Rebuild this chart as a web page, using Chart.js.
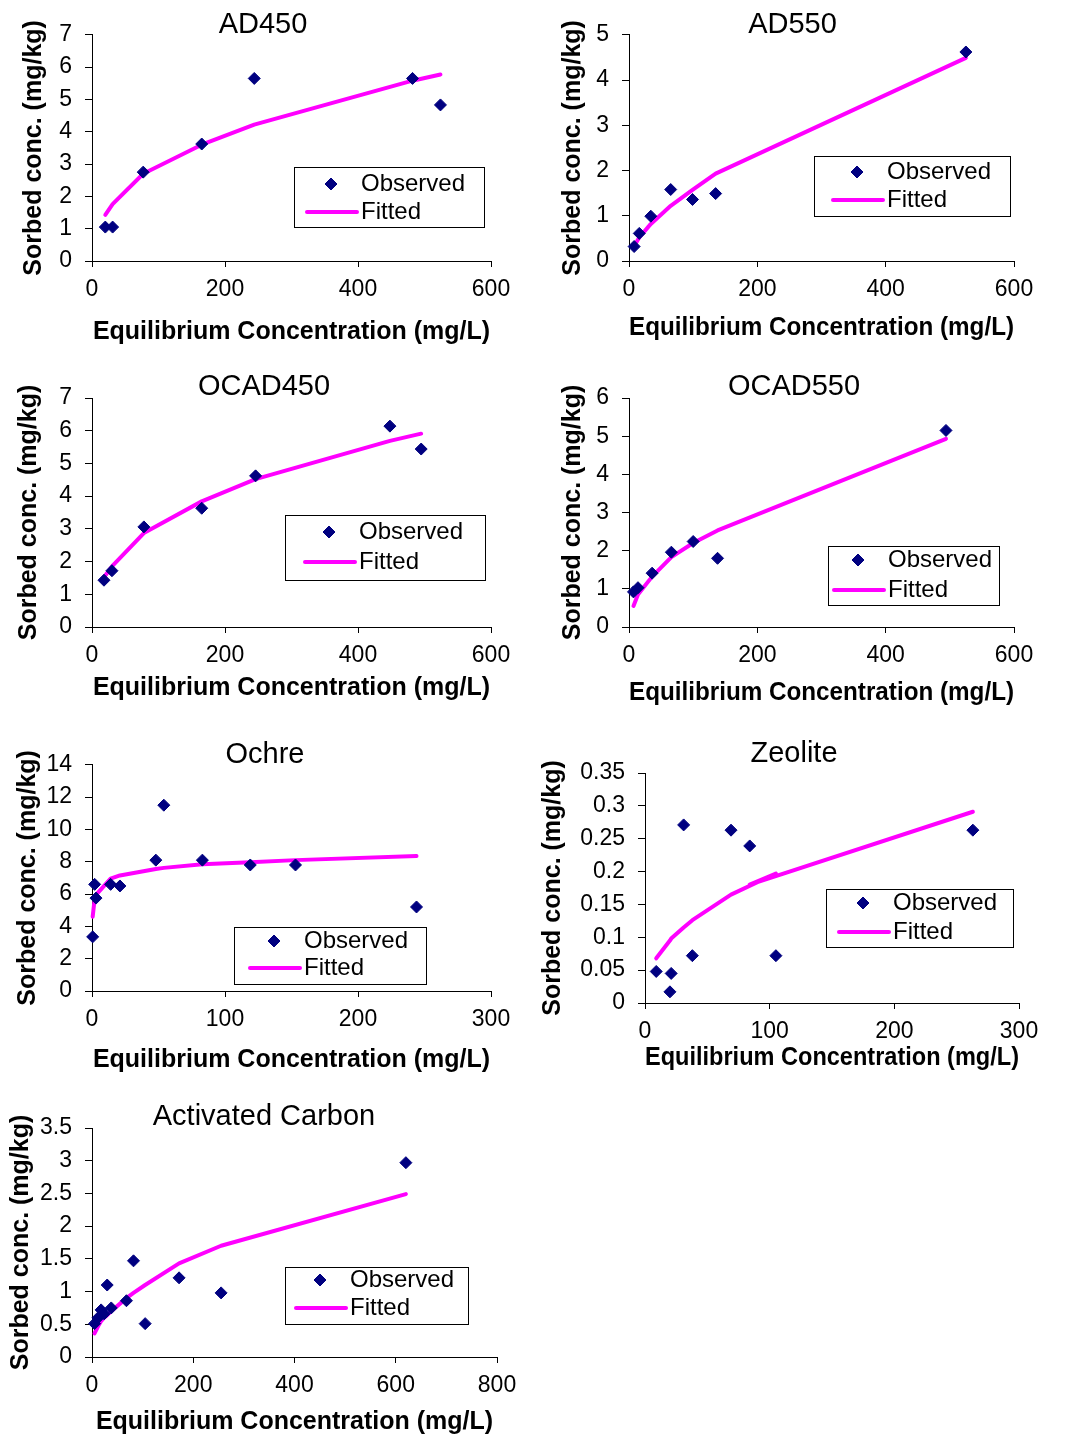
<!DOCTYPE html>
<html>
<head>
<meta charset="utf-8">
<title>Sorption isotherms</title>
<script src="https://cdn.jsdelivr.net/npm/chart.js@4.4.1/dist/chart.umd.min.js"></script>
<style>
  html, body { margin: 0; padding: 0; background: #ffffff; }
  #page { position: relative; width: 1067px; height: 1441px; overflow: hidden; background: #ffffff; }
  #page canvas { position: absolute; }
</style>
</head>
<body>
<div id="page"></div>
<script>
// ---------------- DATA ----------------
const seriesNames = ["Observed", "Fitted"];
const xAxisTitle = "Equilibrium Concentration (mg/L)";
const yAxisTitle = "Sorbed conc. (mg/kg)";

// AD450
const ad450X    = [20, 31, 77, 165, 244, 482, 524];
const ad450Obs  = [1.05, 1.05, 2.75, 3.62, 5.65, 5.65, 4.83];
const ad450Fit  = [1.43, 1.76, 2.70, 3.60, 4.22, 5.58, 5.77];
const ad450XTicks = [0, 200, 400, 600];
const ad450XTickLabels = ["0", "200", "400", "600"];
const ad450YTicks = [0, 1, 2, 3, 4, 5, 6, 7];
const ad450YTickLabels = ["0", "1", "2", "3", "4", "5", "6", "7"];

// AD550
const ad550X    = [8, 16, 34, 65, 99, 135, 525];
const ad550Obs  = [0.32, 0.61, 0.99, 1.58, 1.36, 1.49, 4.62];
const ad550Fit  = [0.33, 0.52, 0.82, 1.22, 1.57, 1.93, 4.49];
const ad550XTicks = [0, 200, 400, 600];
const ad550XTickLabels = ["0", "200", "400", "600"];
const ad550YTicks = [0, 1, 2, 3, 4, 5];
const ad550YTickLabels = ["0", "1", "2", "3", "4", "5"];

// OCAD450
const ocad450X   = [18, 30, 78, 165, 246, 448, 495];
const ocad450Obs = [1.43, 1.72, 3.06, 3.63, 4.62, 6.14, 5.44];
const ocad450Fit = [1.52, 1.85, 2.87, 3.84, 4.52, 5.69, 5.91];
const ocad450XTicks = [0, 200, 400, 600];
const ocad450XTickLabels = ["0", "200", "400", "600"];
const ocad450YTicks = [0, 1, 2, 3, 4, 5, 6, 7];
const ocad450YTickLabels = ["0", "1", "2", "3", "4", "5", "6", "7"];

// OCAD550
const ocad550X   = [7, 14, 36, 66, 100, 138, 494];
const ocad550Obs = [0.92, 1.03, 1.41, 1.96, 2.24, 1.80, 5.15];
const ocad550Fit = [0.55, 0.85, 1.32, 1.83, 2.20, 2.53, 4.93];
const ocad550XTicks = [0, 200, 400, 600];
const ocad550XTickLabels = ["0", "200", "400", "600"];
const ocad550YTicks = [0, 1, 2, 3, 4, 5, 6];
const ocad550YTickLabels = ["0", "1", "2", "3", "4", "5", "6"];

// Ochre
const ochreX   = [0.5, 2, 3, 14, 21, 48, 54, 83, 119, 153, 244];
const ochreObs = [3.35, 6.6, 5.75, 6.6, 6.5, 8.1, 11.5, 8.1, 7.8, 7.8, 5.2];
const ochreFit = [4.6, 5.7, 5.95, 6.95, 7.15, 7.55, 7.62, 7.85, 7.97, 8.1, 8.35];
const ochreXTicks = [0, 100, 200, 300];
const ochreXTickLabels = ["0", "100", "200", "300"];
const ochreYTicks = [0, 2, 4, 6, 8, 10, 12, 14];
const ochreYTickLabels = ["0", "2", "4", "6", "8", "10", "12", "14"];

// Zeolite (sheet order: 105 comes before 84, which gives the small hook in the fitted line)
const zeoliteX   = [9, 20, 21, 31, 38, 69, 105, 84, 263];
const zeoliteObs = [0.048, 0.017, 0.045, 0.271, 0.072, 0.263, 0.072, 0.239, 0.263];
const zeoliteFit = [0.068, 0.095, 0.098, 0.115, 0.126, 0.165, 0.197, 0.180, 0.291];
const zeoliteXTicks = [0, 100, 200, 300];
const zeoliteXTickLabels = ["0", "100", "200", "300"];
const zeoliteYTicks = [0, 0.05, 0.1, 0.15, 0.2, 0.25, 0.3, 0.35];
const zeoliteYTickLabels = ["0", "0.05", "0.1", "0.15", "0.2", "0.25", "0.3", "0.35"];

// Activated Carbon
const carbonX   = [5, 12, 18, 24, 30, 38, 68, 82, 105, 172, 255, 620];
const carbonObs = [0.51, 0.60, 0.72, 0.66, 1.10, 0.75, 0.86, 1.47, 0.51, 1.21, 0.98, 2.97];
const carbonFit = [0.36, 0.47, 0.55, 0.60, 0.64, 0.70, 0.90, 0.98, 1.10, 1.43, 1.70, 2.49];
const carbonXTicks = [0, 200, 400, 600, 800];
const carbonXTickLabels = ["0", "200", "400", "600", "800"];
const carbonYTicks = [0, 0.5, 1, 1.5, 2, 2.5, 3, 3.5];
const carbonYTickLabels = ["0", "0.5", "1", "1.5", "2", "2.5", "3", "3.5"];

// ---------------- PANELS (data references + page layout) ----------------
const panels = [
  { title: "AD450", x: ad450X, obs: ad450Obs, fit: ad450Fit,
    xTicks: ad450XTicks, xLabels: ad450XTickLabels, yTicks: ad450YTicks, yLabels: ad450YTickLabels,
    frame: { plot: [92, 33, 491, 261], titleX: 263, titleY: 23.3, yTitleX: 34, xTitleY: 332,
             legend: { box: [294, 167, 190, 60], textX: 361, rows: [184, 212] } } },
  { title: "AD550", x: ad550X, obs: ad550Obs, fit: ad550Fit,
    xTicks: ad550XTicks, xLabels: ad550XTickLabels, yTicks: ad550YTicks, yLabels: ad550YTickLabels,
    frame: { plot: [629, 33, 1014, 261], titleX: 792.5, titleY: 23.3, yTitleX: 573, xTitleY: 328,
             legend: { box: [814, 156, 196, 60], textX: 887, rows: [172, 200] } } },
  { title: "OCAD450", x: ocad450X, obs: ocad450Obs, fit: ocad450Fit,
    xTicks: ocad450XTicks, xLabels: ocad450XTickLabels, yTicks: ocad450YTicks, yLabels: ocad450YTickLabels,
    frame: { plot: [92, 398, 491, 627], titleX: 264, titleY: 386.7, yTitleX: 29, xTitleY: 688,
             legend: { box: [285, 515, 200, 65], textX: 359, rows: [532, 562] } } },
  { title: "OCAD550", x: ocad550X, obs: ocad550Obs, fit: ocad550Fit,
    xTicks: ocad550XTicks, xLabels: ocad550XTickLabels, yTicks: ocad550YTicks, yLabels: ocad550YTickLabels,
    frame: { plot: [629, 398, 1014, 627], titleX: 794, titleY: 386.7, yTitleX: 573, xTitleY: 693,
             legend: { box: [828, 546, 171, 59], textX: 888, rows: [560, 590] } } },
  { title: "Ochre", x: ochreX, obs: ochreObs, fit: ochreFit,
    xTicks: ochreXTicks, xLabels: ochreXTickLabels, yTicks: ochreYTicks, yLabels: ochreYTickLabels,
    frame: { plot: [92, 763, 491, 991], titleX: 265, titleY: 753.3, yTitleX: 28, xTitleY: 1060,
             legend: { box: [234, 927, 192, 57], textX: 304, rows: [941, 968] } } },
  { title: "Zeolite", x: zeoliteX, obs: zeoliteObs, fit: zeoliteFit,
    xTicks: zeoliteXTicks, xLabels: zeoliteXTickLabels, yTicks: zeoliteYTicks, yLabels: zeoliteYTickLabels,
    frame: { plot: [645, 773, 1019, 1003], titleX: 794, titleY: 753.3, yTitleX: 553, xTitleY: 1058,
             legend: { box: [826, 889, 187, 58], textX: 893, rows: [903, 932] } } },
  { title: "Activated Carbon", x: carbonX, obs: carbonObs, fit: carbonFit,
    xTicks: carbonXTicks, xLabels: carbonXTickLabels, yTicks: carbonYTicks, yLabels: carbonYTickLabels,
    frame: { plot: [92, 1128, 497, 1357], titleX: 264, titleY: 1116.7, yTitleX: 21, xTitleY: 1422,
             legend: { box: [285, 1267, 183, 57], textX: 350, rows: [1280, 1308] } } }
];

// ---------------- STYLE ----------------
const FONT = "'Liberation Sans', Arial, Helvetica, sans-serif";
const NAVY = "#000080";
const MAGENTA = "#FF00FF";
const INK = "#000000";
const TITLE_SIZE = 29, TITLE_LH = 0.8, TITLE_PT = 4;
const AXIS_TITLE_SIZE = 25, AXIS_TITLE_LH = 1.2;
const TICK_SIZE = 23;
const LEGEND_SIZE = 24;

// Legend drawn inside the plot, Excel style (white box with a thin border)
const boxLegendPlugin = {
  id: "boxLegend",
  afterDraw(chart, args, opts) {
    if (!opts || !opts.box) return;
    const ctx = chart.ctx;
    const [bx, by, bw, bh] = opts.box;
    ctx.save();
    ctx.fillStyle = "#ffffff";
    ctx.fillRect(bx, by, bw, bh);
    ctx.strokeStyle = INK;
    ctx.lineWidth = 1;
    ctx.strokeRect(Math.round(bx) + 0.5, Math.round(by) + 0.5, Math.round(bw), Math.round(bh));
    ctx.font = LEGEND_SIZE + "px " + FONT;
    ctx.textBaseline = "middle";
    ctx.textAlign = "left";
    const tx = opts.textX;
    chart.data.datasets.forEach((d, i) => {
      const cy = opts.rows[i];
      if (d.showLine) {
        ctx.beginPath();
        ctx.strokeStyle = d.borderColor;
        ctx.lineWidth = d.borderWidth;
        ctx.lineCap = "round";
        ctx.moveTo(tx - 54, cy);
        ctx.lineTo(tx - 4, cy);
        ctx.stroke();
      } else {
        ctx.fillStyle = d.backgroundColor;
        ctx.strokeStyle = d.borderColor;
        Chart.helpers.drawPoint(ctx, { pointStyle: d.pointStyle, radius: d.pointRadius, borderWidth: 1, rotation: 0 }, tx - 30, cy);
      }
      ctx.fillStyle = INK;
      ctx.fillText(d.label, tx, cy);
    });
    ctx.restore();
  }
};

const page = document.getElementById("page");

panels.forEach(p => {
  const f = p.frame;
  const [pL, pT, pR, pB] = f.plot;
  const S = 2 * f.titleX - pR;               // left edge of the title box (page px)
  const cl = Math.floor(S - 30);
  const padL = S - cl;
  const cw = Math.round(pR + 30 - cl);
  const padR = cl + cw - pR;
  const ct = Math.round(f.titleY - TITLE_PT - TITLE_SIZE * TITLE_LH / 2);
  const titlePB = pT - ct - TITLE_SIZE * TITLE_LH - TITLE_PT;
  const halfAxisTitle = AXIS_TITLE_SIZE * AXIS_TITLE_LH / 2;
  const xH = f.xTitleY - pB + halfAxisTitle;
  const ch = Math.round(pB + xH - ct);
  const yW = pL - S;
  const yTitlePad = f.yTitleX - S - halfAxisTitle;
  const lg = f.legend;

  const canvas = document.createElement("canvas");
  canvas.width = cw;
  canvas.height = ch;
  canvas.style.left = cl + "px";
  canvas.style.top = ct + "px";
  canvas.style.width = cw + "px";
  canvas.style.height = ch + "px";
  page.appendChild(canvas);

  const obsPts = p.x.map((v, i) => ({ x: v, y: p.obs[i] }));
  const fitPts = p.x.map((v, i) => ({ x: v, y: p.fit[i] }));

  const tickFont = { family: FONT, size: TICK_SIZE, weight: "normal" };
  const axisTitleFont = { family: FONT, size: AXIS_TITLE_SIZE, weight: "bold", lineHeight: AXIS_TITLE_LH };

  new Chart(canvas, {
    type: "scatter",
    data: {
      datasets: [
        { label: seriesNames[0], data: obsPts, showLine: false, pointStyle: "rectRot",
          pointRadius: 6, pointHoverRadius: 6, backgroundColor: NAVY, borderColor: NAVY,
          borderWidth: 1, clip: false },
        { label: seriesNames[1], data: fitPts, showLine: true, fill: false, tension: 0,
          borderColor: MAGENTA, backgroundColor: MAGENTA, borderWidth: 4,
          borderCapStyle: "round", borderJoinStyle: "round",
          pointRadius: 0, pointHoverRadius: 0, clip: false }
      ]
    },
    options: {
      responsive: false,
      animation: false,
      devicePixelRatio: 1,
      events: [],
      layout: { padding: { left: padL, right: padR, top: 0, bottom: 0 } },
      plugins: {
        legend: { display: false },
        tooltip: { enabled: false },
        title: {
          display: true, text: p.title, color: INK, align: "center",
          font: { family: FONT, size: TITLE_SIZE, weight: "normal", lineHeight: TITLE_LH },
          padding: { top: TITLE_PT, bottom: titlePB }
        },
        boxLegend: {
          box: [lg.box[0] - cl, lg.box[1] - ct, lg.box[2], lg.box[3]],
          textX: lg.textX - cl,
          rows: [lg.rows[0] - ct, lg.rows[1] - ct]
        }
      },
      scales: {
        x: {
          type: "linear", position: "bottom",
          min: p.xTicks[0], max: p.xTicks[p.xTicks.length - 1],
          afterBuildTicks: s => { s.ticks = p.xTicks.map(v => ({ value: v })); },
          afterFit: s => { s.height = xH; },
          ticks: { callback: (v, i) => p.xLabels[i], color: INK, font: tickFont, padding: 9,
                   maxRotation: 0, minRotation: 0, autoSkip: false },
          grid: { drawOnChartArea: false, drawTicks: true, tickLength: 6, color: INK, lineWidth: 1 },
          border: { display: true, color: INK, width: 1 },
          title: { display: true, text: xAxisTitle, color: INK, font: axisTitleFont, padding: { top: 0, bottom: 0 } }
        },
        y: {
          type: "linear", position: "left",
          min: p.yTicks[0], max: p.yTicks[p.yTicks.length - 1],
          afterBuildTicks: s => { s.ticks = p.yTicks.map(v => ({ value: v })); },
          afterFit: s => { s.width = yW; },
          ticks: { callback: (v, i) => p.yLabels[i], color: INK, font: tickFont, padding: 13, autoSkip: false },
          grid: { drawOnChartArea: false, drawTicks: true, tickLength: 7, color: INK, lineWidth: 1 },
          border: { display: true, color: INK, width: 1 },
          title: { display: true, text: yAxisTitle, color: INK, font: axisTitleFont, padding: { top: yTitlePad, bottom: 0 } }
        }
      }
    },
    plugins: [boxLegendPlugin]
  });
});
</script>
</body>
</html>
